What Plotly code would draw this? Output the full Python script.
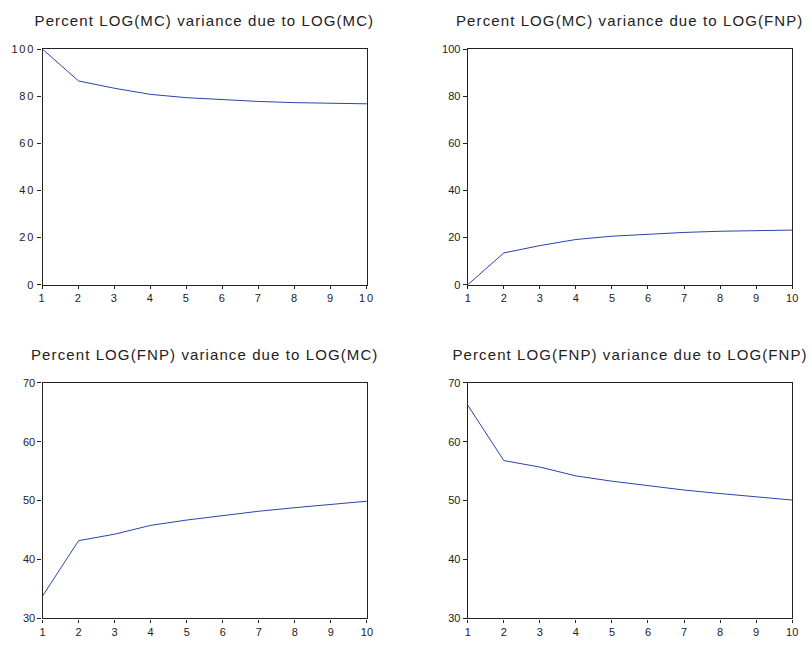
import plotly.graph_objects as go

periods = [1, 2, 3, 4, 5, 6, 7, 8, 9, 10]
mc_due_mc = [100.0, 86.5, 83.4, 80.8, 79.4, 78.5, 77.8, 77.3, 76.9, 76.8]
mc_due_fnp = [0.0, 13.5, 16.6, 19.2, 20.6, 21.5, 22.2, 22.7, 23.1, 23.2]
fnp_due_mc = [33.8, 43.2, 44.3, 45.8, 46.7, 47.5, 48.2, 48.8, 49.4, 49.9]
fnp_due_fnp = [66.2, 56.8, 55.7, 54.2, 53.3, 52.5, 51.8, 51.2, 50.6, 50.1]

titles = [
    "Percent LOG(MC) variance due to LOG(MC)",
    "Percent LOG(MC) variance due to LOG(FNP)",
    "Percent LOG(FNP) variance due to LOG(MC)",
    "Percent LOG(FNP) variance due to LOG(FNP)",
]
series = [mc_due_mc, mc_due_fnp, fnp_due_mc, fnp_due_fnp]
y_ranges = [[0, 100], [0, 100], [30, 70], [30, 70]]
y_ticks = [[0, 20, 40, 60, 80, 100], [0, 20, 40, 60, 80, 100],
           [30, 40, 50, 60, 70], [30, 40, 50, 60, 70]]

W, H = 812, 645
x_doms = [[40 / W, 368 / W], [470 / W, 798 / W]]
y_doms = [[1 - 284 / H, 1 - 44 / H], [1 - 624 / H, 1 - 384 / H]]

LINE_COLOR = "#2a44a8"
TXT = "#222222"
FONT = "Liberation Sans, Arial, sans-serif"

fig = go.Figure()
layout = dict(
    width=W, height=H,
    margin=dict(l=0, r=0, t=0, b=0),
    paper_bgcolor="white", plot_bgcolor="white",
    showlegend=False,
    annotations=[],
)

for i in range(4):
    r, c = divmod(i, 2)
    n = "" if i == 0 else str(i + 1)
    xa, ya = "x" + n, "y" + n
    fig.add_trace(go.Scatter(
        x=periods, y=series[i], mode="lines",
        line=dict(color=LINE_COLOR, width=1),
        xaxis=xa, yaxis=ya, hoverinfo="x+y",
    ))
    layout["xaxis" + n] = dict(
        domain=x_doms[c], anchor=ya, range=[1, 10],
        tickmode="array", tickvals=periods,
        ticks="outside", ticklen=3, tickwidth=1, tickcolor="#222",
        showline=True, linecolor="#222", linewidth=1.3, mirror=True,
        showgrid=False, zeroline=False,
        tickfont=dict(family=FONT, size=11, color=TXT),
    )
    layout["yaxis" + n] = dict(
        domain=y_doms[r], anchor=xa, range=y_ranges[i],
        tickmode="array", tickvals=y_ticks[i],
        ticks="outside", ticklen=4, tickwidth=1, tickcolor="#222",
        showline=True, linecolor="#222", linewidth=1.3, mirror=True,
        showgrid=False, zeroline=False,
        tickfont=dict(family=FONT, size=11, color=TXT),
    )
    xc = (x_doms[c][0] + x_doms[c][1]) / 2
    yt = 15 if r == 0 else 355
    layout["annotations"].append(dict(
        text=titles[i], x=xc, y=1 - yt / H, xref="paper", yref="paper",
        xanchor="center", yanchor="middle", showarrow=False,
        font=dict(family=FONT, size=15, color=TXT),
    ))

fig.update_layout(**layout)

post = """
document.body.style.margin = '0px';
var gd = document.getElementById('{plot_id}');
function spacing() {
  gd.querySelectorAll('.annotation-text').forEach(function(e){ e.style.letterSpacing = '1.1px'; });
  gd.querySelectorAll('.xtick text, .ytick text').forEach(function(e){ e.style.letterSpacing = '1.8px'; });
}
spacing();
gd.on('plotly_afterplot', spacing);
"""
fig.write_html("out.html", post_script=post, config={"displayModeBar": False})
